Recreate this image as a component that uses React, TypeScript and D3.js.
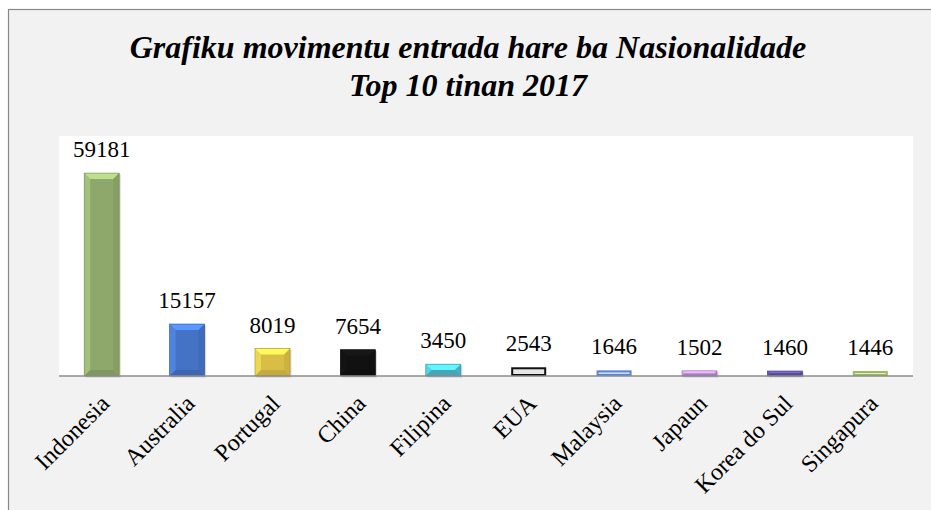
import React from "react";
import * as d3 from "d3";

const countries = ["Indonesia", "Australia", "Portugal", "China", "Filipina", "EUA", "Malaysia", "Japaun", "Korea do Sul", "Singapura"];
const entries = [59181, 15157, 8019, 7654, 3450, 2543, 1646, 1502, 1460, 1446];
const fills = ["#8ea86b", "#4472c4", "#d9bd45", "#111111", "#4bb8d0", "#e6e6e6", "#c8d8f8", "#b58ad6", "#5a4e9a", "#e4eed4"];
const strokes = ["#6f8a4f", "#2f5597", "#a88f2a", "#000000", "#2f8fa6", "#111111", "#5b84d6", "#9c6fc0", "#463b80", "#9bbb59"];
const titleLines = ["Grafiku movimentu entrada hare ba Nasionalidade", "Top 10 tinan 2017"];

const W = 931;
const H = 510;
const plot = { left: 59, right: 913, top: 136, bottom: 376 };

function Bar({ x, y, w, h, fill, stroke, outlined }: any) {
    const b = Math.min(6, h / 2, w / 2);
    const light = d3.color(fill)!.brighter(0.8).formatHex();
    const dark = d3.color(fill)!.darker(0.5).formatHex();
    if (outlined) {
        return (
            <rect x={x + 1} y={y + 1} width={w - 2} height={Math.max(h - 2, 1)} fill={fill} stroke={stroke} strokeWidth={2} />
        );
    }
    return (
        <g>
            <rect x={x + 1.5} y={y + 1.5} width={w} height={h} fill="#000" opacity={0.15} />
            <rect x={x} y={y} width={w} height={h} fill={fill} />
            <polygon points={`${x},${y} ${x + w},${y} ${x + w - b},${y + b} ${x + b},${y + b}`} fill={light} />
            <polygon points={`${x},${y} ${x + b},${y + b} ${x + b},${y + h - b} ${x},${y + h}`} fill={light} opacity={0.45} />
            <polygon points={`${x + w},${y} ${x + w - b},${y + b} ${x + w - b},${y + h - b} ${x + w},${y + h}`} fill={dark} opacity={0.35} />
            <polygon points={`${x},${y + h} ${x + b},${y + h - b} ${x + w - b},${y + h - b} ${x + w},${y + h}`} fill={dark} opacity={0.6} />
            <rect x={x} y={y} width={w} height={h} fill="none" stroke={stroke} strokeWidth={0.6} />
        </g>
    );
}

export default function App() {
    const x = d3.scaleBand<string>().domain(countries).range([plot.left, plot.right]).paddingInner(0.59).paddingOuter(0.295);
    const y = d3.scaleLinear().domain([0, 70000]).range([plot.bottom, plot.top]);
    const font = "'Times New Roman', 'Liberation Serif', serif";

    return (
        <div style={{ position: "fixed", left: 0, top: 0 }}>
            <svg width={W} height={H} style={{ display: "block" }}>
                <rect x={8.5} y={9.5} width={W} height={H} fill="#f2f2f2" stroke="#888" strokeWidth={1.2} />
                {titleLines.map((t, i) => (
                    <text key={i} x={468} y={58 + i * 38} textAnchor="middle" fontFamily={font} fontWeight="bold" fontStyle="italic" fontSize={32} fill="#000">
                        {t}
                    </text>
                ))}
                <rect x={plot.left} y={plot.top} width={plot.right - plot.left} height={plot.bottom - plot.top} fill="#fff" />
                {countries.map((c, i) => {
                    const bx = x(c)!;
                    const by = y(entries[i]);
                    const outlined = c === "EUA" || c === "Malaysia" || c === "Singapura";
                    return (
                        <Bar key={c} x={bx} y={by} w={x.bandwidth()} h={y(0) - by} fill={fills[i]} stroke={strokes[i]} outlined={outlined} />
                    );
                })}
                <line x1={plot.left} x2={plot.right} y1={plot.bottom} y2={plot.bottom} stroke="#8c8c8c" strokeWidth={1.5} />
                {countries.map((c, i) => (
                    <text key={c} x={x(c)! + x.bandwidth() / 2} y={y(entries[i]) - 16} textAnchor="middle" fontFamily={font} fontSize={23} fill="#000">
                        {entries[i]}
                    </text>
                ))}
                {countries.map((c) => {
                    const cx = x(c)! + x.bandwidth() / 2 - 3;
                    return (
                        <text key={c} transform={`translate(${cx},393) rotate(-45)`} dy="0.71em" textAnchor="end" fontFamily={font} fontSize={24} fill="#000">
                            {c}
                        </text>
                    );
                })}
            </svg>
        </div>
    );
}
